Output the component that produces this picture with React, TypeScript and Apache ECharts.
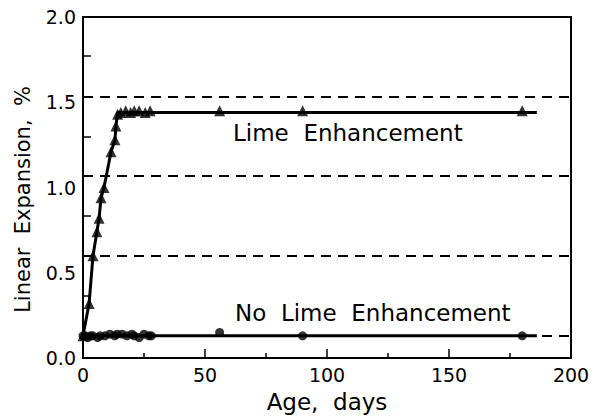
import React, { useEffect, useRef } from "react";
import * as echarts from "echarts";

// Lime Enhancement (triangles): age in days and linear expansion in %
const limeDays = [0, 2.5, 4.1, 5.7, 6.6, 7.4, 8.6, 11.5, 13.1, 13.5, 14.2, 15.5, 17.5, 19.5, 21, 23, 25.5, 27.5, 56, 90, 180];
const limeValues = [0.13, 0.32, 0.6, 0.74, 0.82, 0.94, 1.0, 1.21, 1.28, 1.36, 1.43, 1.44, 1.45, 1.44, 1.45, 1.45, 1.44, 1.45, 1.45, 1.45, 1.45];

// No Lime Enhancement (circles)
const noLimeDays = [0, 1, 2, 3, 4, 6, 7, 9, 11, 13, 14, 16, 18, 20, 21, 23, 25, 27, 28, 56, 90, 180];
const noLimeValues = [0.13, 0.13, 0.12, 0.13, 0.13, 0.12, 0.13, 0.13, 0.14, 0.13, 0.14, 0.14, 0.13, 0.14, 0.13, 0.12, 0.14, 0.13, 0.13, 0.15, 0.13, 0.13];

// Trend lines drawn through the data
const limeLineDays = [...limeDays.slice(0, 11), 186];
const limeLineValues = [...limeValues.slice(0, 10), 1.44, 1.44];
const noLimeLineDays = [0, 186];
const noLimeLineValues = [0.13, 0.13];

// Axis ticks / labels / dashed reference lines
const xTicks = [0, 50, 100, 150, 200];
const yLabels = [0, 0.5, 1.0, 1.5, 2.0];
const yTicks = [0.13, 0.365, 0.6, 0.835, 1.07, 1.3, 1.535, 1.77, 2.0];
const dashedLevels = [0.13, 0.6, 1.07, 1.535];

const FONT = "DejaVu Sans";

export default function App() {
  const ref = useRef<HTMLDivElement>(null);
  useEffect(() => {
    if (!ref.current) return;
    const chart = echarts.init(ref.current, undefined, { renderer: "svg" });
    const zip = (a: number[], b: number[]) => a.map((v, i) => [v, b[i]]);
    chart.setOption({
      animation: false,
      backgroundColor: "#fff",
      grid: {
        left: 83,
        right: 30,
        top: 17,
        bottom: 59,
        show: true,
        borderColor: "#000",
        borderWidth: 2,
        backgroundColor: "transparent",
      },
      xAxis: {
        type: "value",
        min: xTicks[0],
        max: xTicks[xTicks.length - 1],
        interval: 50,
        name: "Age,  days",
        nameLocation: "middle",
        nameGap: 32,
        nameTextStyle: { fontFamily: FONT, fontSize: 23, color: "#000" },
        axisLine: { show: true, lineStyle: { color: "#000", width: 2 } },
        axisTick: { show: true, inside: true, length: 9, lineStyle: { color: "#000", width: 1.5 } },
        minorTick: { show: true, splitNumber: 2, length: 5, lineStyle: { color: "#000", width: 1.5 } },
        axisLabel: { fontFamily: FONT, fontSize: 19, color: "#000", margin: 7 },
        splitLine: { show: false },
      },
      yAxis: {
        type: "value",
        min: 0,
        max: 2,
        name: "Linear  Expansion,  %",
        nameLocation: "middle",
        nameGap: 50,
        nameTextStyle: { fontFamily: FONT, fontSize: 21, color: "#000", padding: [0, 24, 0, 0] },
        axisLine: { show: true, lineStyle: { color: "#000", width: 2 } },
        axisTick: { show: true, inside: true, length: 8, customValues: yTicks, lineStyle: { color: "#000", width: 1.5 } },
        axisLabel: {
          fontFamily: FONT,
          fontSize: 19,
          color: "#000",
          margin: 7,
          customValues: yLabels,
          formatter: (v: number) => v.toFixed(1),
        },
        splitLine: { show: false },
      },
      series: [
        {
          type: "line",
          data: zip(limeLineDays, limeLineValues),
          showSymbol: false,
          symbol: "none",
          lineStyle: { color: "#000", width: 3 },
          z: 3,
          markLine: {
            silent: true,
            symbol: "none",
            label: { show: false },
            lineStyle: { color: "#000", width: 2, type: [10, 7] },
            data: dashedLevels.map((v) => ({ yAxis: v })),
            z: 1,
          },
        },
        {
          type: "line",
          data: zip(noLimeLineDays, noLimeLineValues),
          symbol: "none",
          lineStyle: { color: "#000", width: 3 },
          z: 3,
        },
        {
          type: "scatter",
          data: zip(limeDays, limeValues),
          symbol: "triangle",
          symbolSize: [11, 11],
          itemStyle: { color: "#000" },
          z: 4,
        },
        {
          type: "scatter",
          data: zip(noLimeDays, noLimeValues),
          symbol: "circle",
          symbolSize: 9,
          itemStyle: { color: "#000" },
          z: 4,
        },
      ],
      graphic: [
        {
          type: "text",
          x: 233,
          y: 133,
          style: { text: "Lime  Enhancement", font: `23px "${FONT}"`, fill: "#000", verticalAlign: "middle" },
        },
        {
          type: "text",
          x: 235,
          y: 313,
          style: { text: "No  Lime  Enhancement", font: `23px "${FONT}"`, fill: "#000", verticalAlign: "middle" },
        },
      ],
    });
    return () => chart.dispose();
  }, []);
  return (
    <div
      ref={ref}
      style={{ position: "fixed", left: 0, top: 0, width: 601, height: 418, background: "#fff" }}
    />
  );
}
